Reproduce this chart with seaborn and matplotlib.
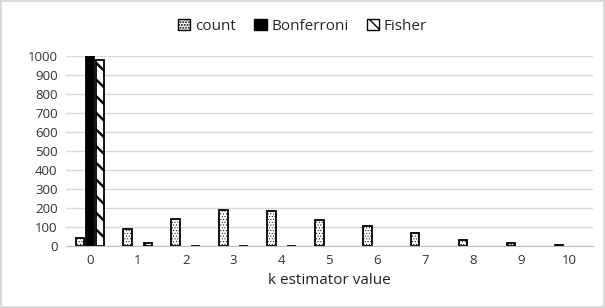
import pandas as pd
import numpy as np
import matplotlib.pyplot as plt
import seaborn as sns
from matplotlib.patches import Patch

# k estimator values and series counts
k_values = [0, 1, 2, 3, 4, 5, 6, 7, 8, 9, 10]
count = [40, 88, 142, 192, 185, 137, 105, 70, 32, 18, 5]
bonferroni = [1000, 0, 0, 0, 0, 0, 0, 0, 0, 0, 0]
fisher = [980, 15, 3, 3, 3, 0, 0, 0, 0, 0, 0]
series = ["count", "Bonferroni", "Fisher"]

df = pd.DataFrame({"k": k_values, "count": count,
                   "Bonferroni": bonferroni, "Fisher": fisher})
long = df.melt(id_vars="k", value_vars=series, var_name="series", value_name="value")

sns.set_style("white")
plt.rcParams["font.family"] = ["Open Sans", "DejaVu Sans"]

fig = plt.figure(figsize=(6.05, 3.08), dpi=100)
fig.patch.set_edgecolor("#d9d9d9")
fig.patch.set_linewidth(1.5)
ax = fig.add_axes([0.109, 0.201, 0.871, 0.617])

sns.barplot(data=long, x="k", y="value", hue="series", hue_order=series,
            palette=["white", "black", "white"], width=0.63, gap=0.15,
            edgecolor="black", linewidth=1.3, ax=ax, legend=False)

hatches = {"count": "......", "Bonferroni": "", "Fisher": "\\\\"}
hatch_lw = {"count": 0.4, "Bonferroni": 1.0, "Fisher": 1.7}
for cont, name in zip(ax.containers, series):
    for bar in cont:
        bar.set_hatch(hatches[name])
        bar.set_hatch_linewidth(hatch_lw[name])
        if name == "Bonferroni":
            bar.set_facecolor("black")
        if bar.get_height() == 0:
            bar.set_visible(False)

ax.set_ylim(0, 1000)
ax.set_xlim(-0.5, 10.5)
ax.set_yticks(range(0, 1001, 100))
ax.yaxis.grid(True, color="#d9d9d9", linewidth=1)
ax.set_axisbelow(True)
for s in ["top", "right", "left"]:
    ax.spines[s].set_visible(False)
ax.spines["bottom"].set_color("#bfbfbf")
ax.tick_params(axis="both", length=0, labelsize=9.5, colors="#333333", pad=6)
ax.set_xlabel("k estimator value", fontsize=11, color="#222222", labelpad=4)
ax.set_ylabel("")

handles = [Patch(facecolor="white", edgecolor="black", hatch="......", label="count"),
           Patch(facecolor="black", edgecolor="black", label="Bonferroni"),
           Patch(facecolor="white", edgecolor="black", hatch="\\\\", label="Fisher")]
handles[0].set_hatch_linewidth(0.4)
handles[2].set_hatch_linewidth(1.7)
fig.legend(handles=handles, loc="center", bbox_to_anchor=(0.5, 0.915), ncol=3,
           frameon=False, fontsize=11, handlelength=0.8, handleheight=0.8,
           handletextpad=0.3, columnspacing=1.2)

fig.savefig("out.png", dpi=100)
